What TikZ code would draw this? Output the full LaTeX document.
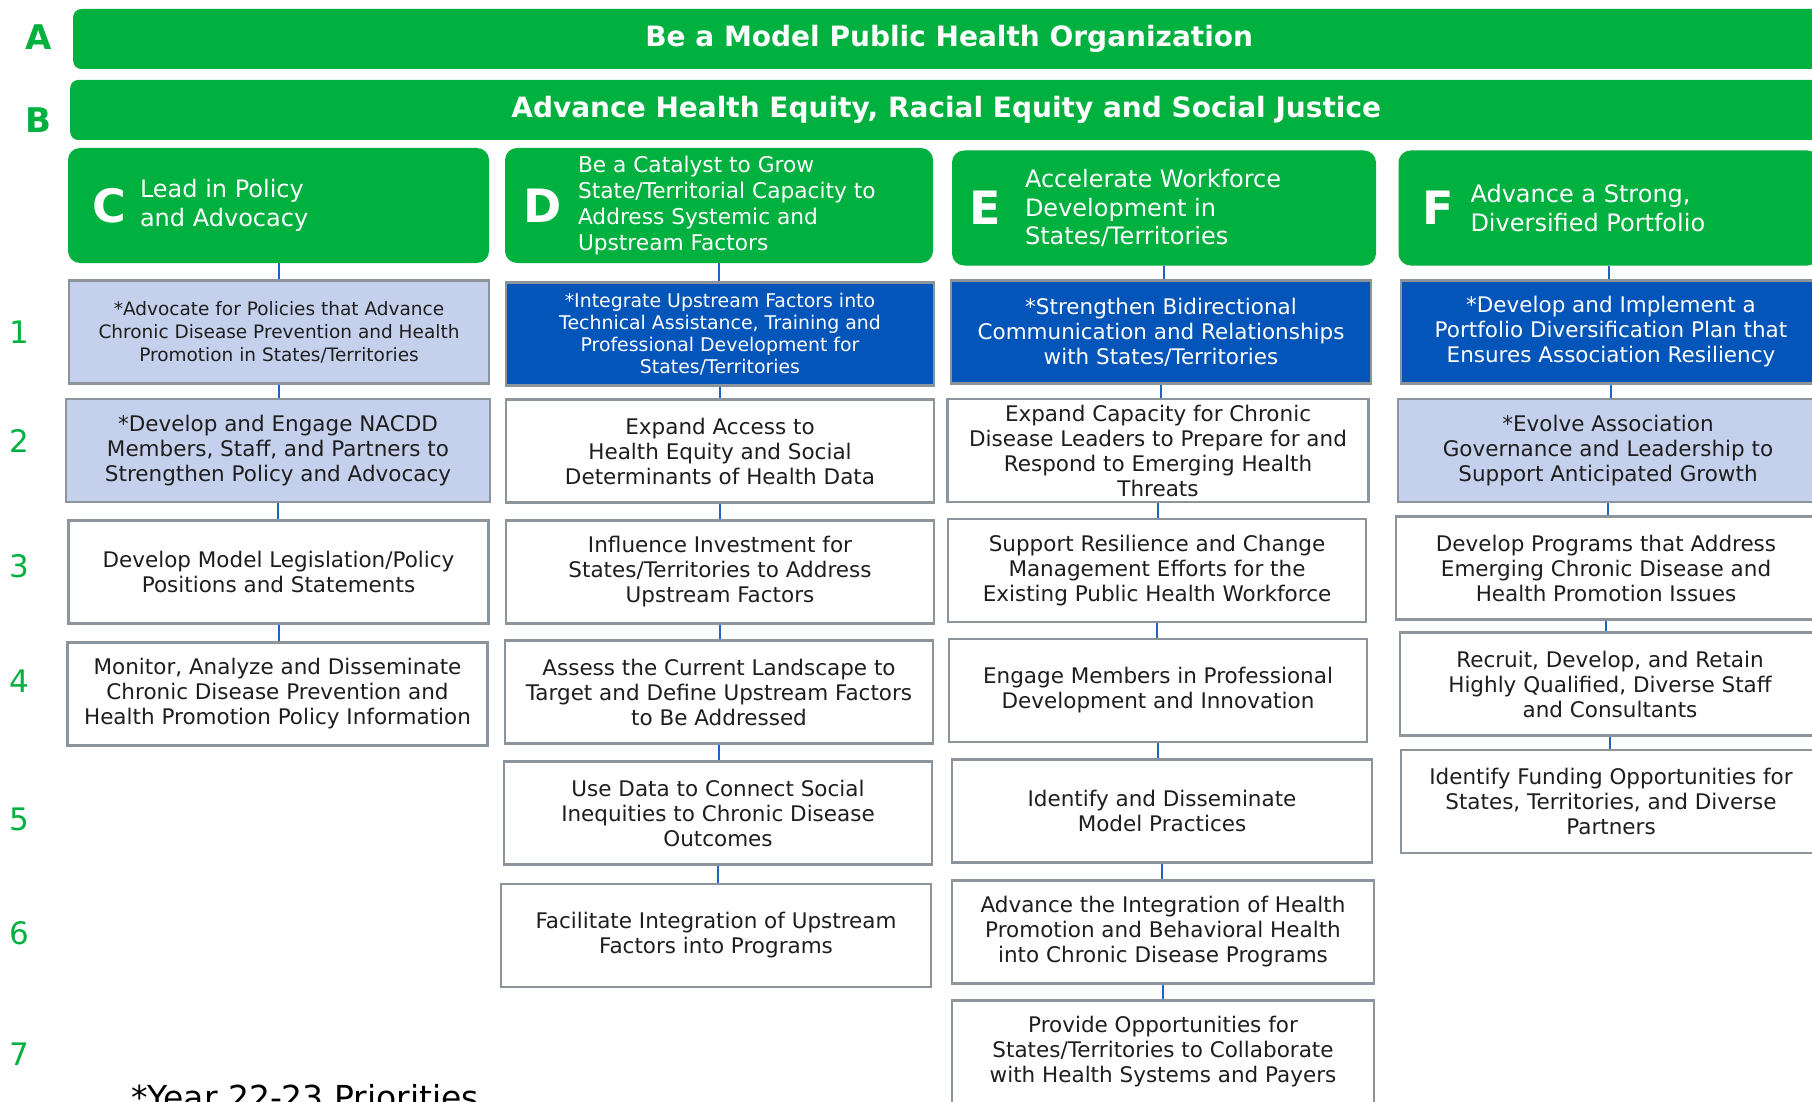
\documentclass[tikz,border=0pt]{standalone}
\usepackage{fontspec}
\setmainfont{DejaVu Sans}
\usepackage{xcolor}
\definecolor{nacgreen}{RGB}{0,177,64}
\definecolor{darkblue}{RGB}{4,85,185}
\definecolor{prioblue}{RGB}{197,209,236}
\definecolor{boxgray}{RGB}{140,149,156}
\definecolor{linkblue}{RGB}{32,100,195}
\definecolor{textdark}{RGB}{30,30,30}

\tikzset{
  banner/.style={fill=nacgreen, rounded corners=8pt, text=white, inner sep=0pt,
    font=\bfseries\fontsize{28}{32}\selectfont, minimum height=60, minimum width=1752},
  header/.style={fill=nacgreen, rounded corners=12pt, minimum width=421, minimum height=115},
  hdletter/.style={text=white, font=\bfseries\fontsize{46}{46}\selectfont},
  hdtext/.style={text=white, anchor=west, align=left, inner sep=0pt,
    font=\fontsize{24}{28.5}\selectfont},
  objbox/.style={draw=boxgray, line width=2.5pt, fill=white, text=textdark, align=center,
    minimum width=420, minimum height=103, inner sep=2pt, font=\fontsize{21.5}{25}\selectfont},
  prio/.style={objbox, fill=prioblue},
  topprio/.style={objbox, fill=darkblue, text=white},
  link/.style={draw=linkblue, line width=2pt},
  rownum/.style={text=nacgreen, font=\fontsize{31}{31}\selectfont},
  sidelabel/.style={text=nacgreen, font=\bfseries\fontsize{34}{34}\selectfont},
}

\begin{document}
\begin{tikzpicture}[x=1pt, y=-1pt]
  \useasboundingbox (0,0) rectangle (1812,1102);
  \clip (0,0) rectangle (1812,1102);

  % goals A and B
  \node[sidelabel] (labA) at (39,37) {A};
  \node[sidelabel] (labB) at (38,120) {B};
  \node[banner, anchor=west] (goalA) at (73,39) {Be a Model Public Health Organization};
  \node[banner, anchor=west] (goalB) at (70,110) {Advance Health Equity, Racial Equity and Social Justice};

  % headers
  \node[header] (c0) at (278.5,205.5) {};
  \node[hdletter] at ([xshift=42]c0.west) {C};
  \node[hdtext] at ([xshift=72]c0.west) {Lead in Policy\\and Advocacy};
  \node[header, minimum width=428] (d0) at (719,205.5) {};
  \node[hdletter] at ([xshift=38]d0.west) {D};
  \node[hdtext, font=\fontsize{21.7}{26}\selectfont] at ([xshift=73]d0.west) {Be a Catalyst to Grow\\State/Territorial Capacity to\\Address Systemic and\\Upstream Factors};
  \node[header, minimum width=424] (e0) at (1164,208) {};
  \node[hdletter] at ([xshift=33]e0.west) {E};
  \node[hdtext] at ([xshift=73]e0.west) {Accelerate Workforce\\Development in\\States/Territories};
  \node[header] (f0) at (1609,208) {};
  \node[hdletter] at ([xshift=40]f0.west) {F};
  \node[hdtext] at ([xshift=72]f0.west) {Advance a Strong,\\Diversified Portfolio};

  % row numbers
  \foreach \Num/\ypos in {1/332,2/441,3/566,4/681,5/819,6/933,7/1054}
    \node[rownum] (row\Num) at (19,\ypos) {\Num};

  % column C
  \node[prio, font=\fontsize{18.5}{23}\selectfont] (c1) at (279,332) {*Advocate for Policies that Advance\\Chronic Disease Prevention and Health\\Promotion in States/Territories};
  \node[prio, minimum width=424] (c2) at (278,450.5) {*Develop and Engage NACDD\\Members, Staff, and Partners to\\Strengthen Policy and Advocacy};
  \node[objbox] (c3) at (278.5,572) {Develop Model Legislation/Policy\\Positions and Statements};
  \node[objbox] (c4) at (277.5,694) {Monitor, Analyze and Disseminate\\Chronic Disease Prevention and\\Health Promotion Policy Information};

  % column D
  \node[topprio, minimum width=428, font=\fontsize{18.9}{22}\selectfont] (d1) at (720,334) {*Integrate Upstream Factors into\\Technical Assistance, Training and\\Professional Development for\\States/Territories};
  \node[objbox, minimum width=428] (d2) at (720,451) {Expand Access to\\Health Equity and Social\\Determinants of Health Data};
  \node[objbox, minimum width=428] (d3) at (720,572) {Influence Investment for\\States/Territories to Address\\Upstream Factors};
  \node[objbox, minimum width=428] (d4) at (719,692) {Assess the Current Landscape to\\Target and Define Upstream Factors\\to Be Addressed};
  \node[objbox, minimum width=428] (d5) at (718,813) {Use Data to Connect Social\\Inequities to Chronic Disease\\Outcomes};
  \node[objbox, minimum width=430] (d6) at (716,935.5) {Facilitate Integration of Upstream\\Factors into Programs};

  % column E
  \node[topprio] (e1) at (1161,332) {*Strengthen Bidirectional\\Communication and Relationships\\with States/Territories};
  \node[objbox, minimum width=421] (e2) at (1158,450.5) {Expand Capacity for Chronic\\Disease Leaders to Prepare for and\\Respond to Emerging Health\\Threats};
  \node[objbox, minimum width=418] (e3) at (1157,570.5) {Support Resilience and Change\\Management Efforts for the\\Existing Public Health Workforce};
  \node[objbox, minimum width=418] (e4) at (1158,690.5) {Engage Members in Professional\\Development and Innovation};
  \node[objbox] (e5) at (1162,811) {Identify and Disseminate\\Model Practices};
  \node[objbox, minimum width=422] (e6) at (1163,932) {Advance the Integration of Health\\Promotion and Behavioral Health\\into Chronic Disease Programs};
  \node[objbox, minimum width=422] (e7) at (1163,1052) {Provide Opportunities for\\States/Territories to Collaborate\\with Health Systems and Payers};

  % column F
  \node[topprio] (f1) at (1611,332) {*Develop and Implement a\\Portfolio Diversification Plan that\\Ensures Association Resiliency};
  \node[prio] (f2) at (1608,450.5) {*Evolve Association\\Governance and Leadership to\\Support Anticipated Growth};
  \node[objbox] (f3) at (1606,568) {Develop Programs that Address\\Emerging Chronic Disease and\\Health Promotion Issues};
  \node[objbox] (f4) at (1610,684) {Recruit, Develop, and Retain\\Highly Qualified, Diverse Staff\\and Consultants};
  \node[objbox] (f5) at (1611,801.5) {Identify Funding Opportunities for\\States, Territories, and Diverse\\Partners};

  % connectors
  \foreach \From/\To in {c0/c1,c1/c2,c2/c3,c3/c4,
      d0/d1,d1/d2,d2/d3,d3/d4,d4/d5,d5/d6,
      e0/e1,e1/e2,e2/e3,e3/e4,e4/e5,e5/e6,e6/e7,
      f0/f1,f1/f2,f2/f3,f3/f4,f4/f5}
    \draw[link] (\From.south) -- (\From.south |- \To.north);

  % footnote
  \node[anchor=north west, inner sep=0pt, font=\fontsize{33}{38}\selectfont] (note) at (131,1084) {*Year 22-23 Priorities};
\end{tikzpicture}
\end{document}
